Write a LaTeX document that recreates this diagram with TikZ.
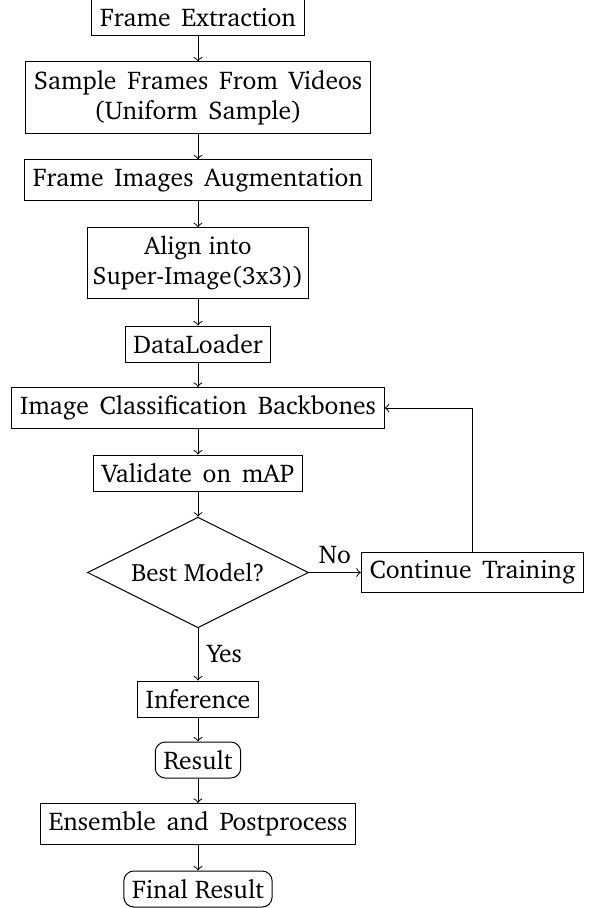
\documentclass[tikz,border=0pt]{standalone}
\usepackage[T1]{fontenc}
\usepackage{charter}
\usetikzlibrary{shapes.geometric}
\newcommand\chartfont{\fontsize{10.25}{12}\selectfont\spaceskip=4.3pt plus 1pt minus 1pt\relax}
\newcommand\chartplain{\fontsize{10.25}{12}\selectfont}
\newcommand\charttight{\fontsize{10}{12}\selectfont}
\begin{document}
\begin{tikzpicture}[x=0.4pt,y=-0.4pt,
  every node/.style={font=\chartfont},
  box/.style={draw, rectangle, align=center},
  rbox/.style={box, rounded corners, font=\chartplain},
  decision/.style={draw, diamond, aspect=2, align=center, font=\charttight},
  arr/.style={->}]
\useasboundingbox (0,0) rectangle (591,908);
\node[box]  (fe) at (198,17.5)  {Frame Extraction};
\node[box]  (sf) at (198,97.5)  {Sample Frames From Videos\\(Uniform Sample)};
\node[box]  (fi) at (198,180)   {Frame Images Augmentation};
\node[box, font=\charttight, inner xsep=1.9pt] (al) at (198,263) {Align into\\Super-Image(3x3))};
\node[box]  (dl) at (198,344)   {DataLoader};
\node[box]  (ic) at (198,408)   {Image Classification Backbones};
\node[box]  (va) at (198,473)   {Validate on mAP};
\node[decision] (bm) at (198,572.5) {Best Model?};
\node[box]  (ct) at (472.5,572.5) {Continue Training};
\node[box]  (in) at (198,699)   {Inference};
\node[rbox] (re) at (198,760)   {Result};
\node[box]  (en) at (198,824)   {Ensemble and Postprocess};
\node[rbox] (fr) at (198,889)   {Final Result};
\draw[arr] (fe) -- (sf);
\draw[arr] (sf) -- (fi);
\draw[arr] (fi) -- (al);
\draw[arr] (al) -- (dl);
\draw[arr] (dl) -- (ic);
\draw[arr] (ic) -- (va);
\draw[arr] (va) -- (bm);
\draw[arr] (bm) -- node[above] {No} (ct);
\draw[arr] (ct.north) |- (ic.east);
\draw[arr] (bm) -- node[right] {Yes} (in);
\draw[arr] (in) -- (re);
\draw[arr] (re) -- (en);
\draw[arr] (en) -- (fr);
\end{tikzpicture}
\end{document}
